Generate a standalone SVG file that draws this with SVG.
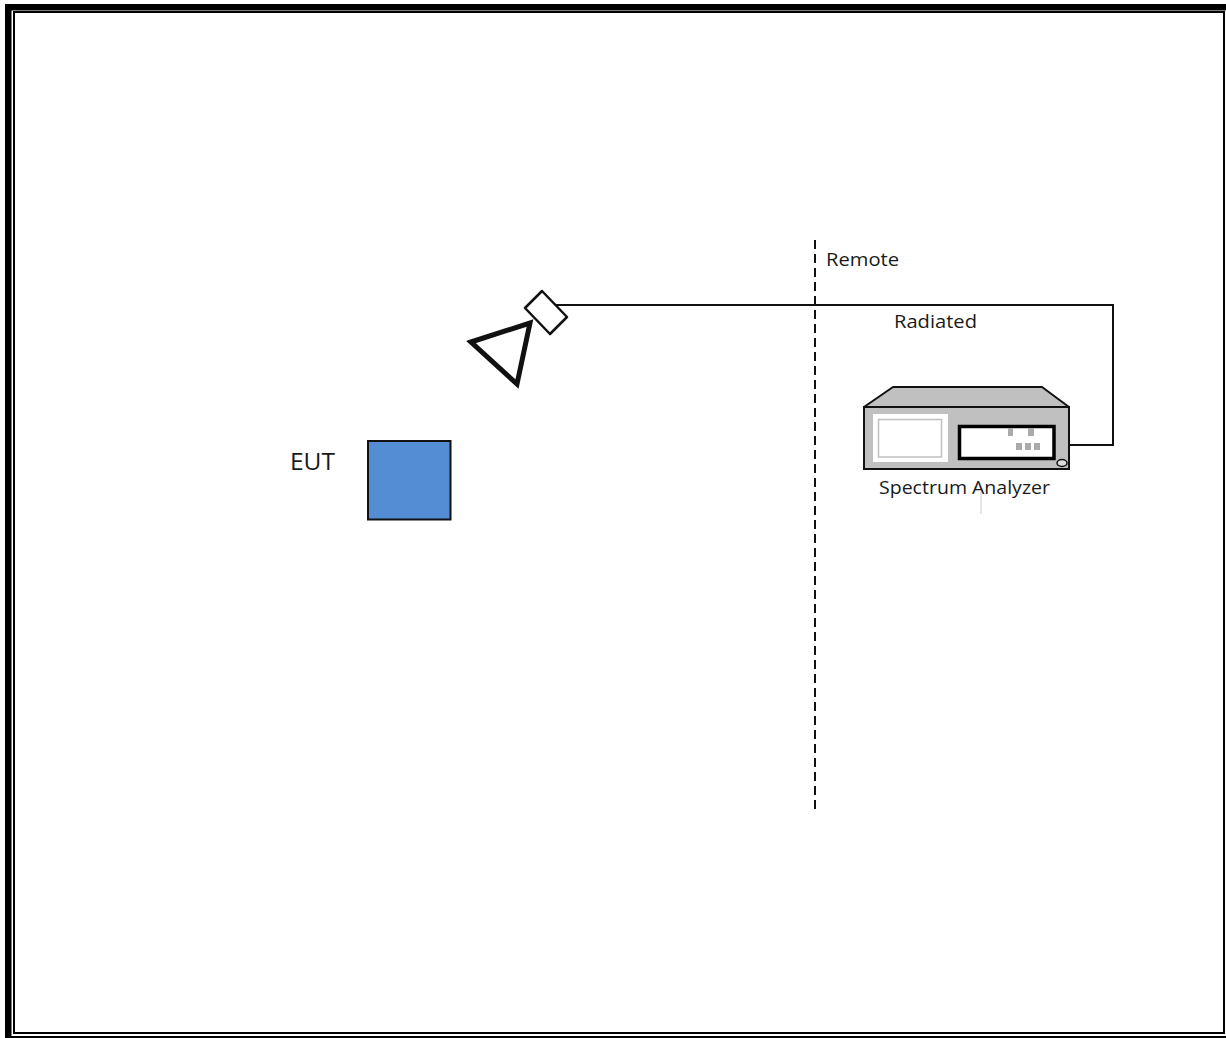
<svg xmlns="http://www.w3.org/2000/svg" width="1226" height="1038" viewBox="0 0 1226 1038">
<style>
.t{font-family:"Open Sans","Noto Sans",sans-serif;fill:#1a1a1a}
.l{fill:none;stroke:#111}
.b{fill:#000}
.k{fill:#aaa}
</style>
<rect width="1226" height="1038" fill="#fff"/>
<g id="page-border">
<path class="b" d="M5 4H1226V10.500H11.500V1036H1226V1038H5Z"/>
<path class="b" fill-rule="evenodd" d="M13 11H1225V1034H13ZM15 13V1032H1223V13Z"/>
</g>
<g id="connectors">
<path class="l" stroke-width="2" d="M556 305H1113V445H1069"/>
<path class="l" stroke-width="2" stroke-dasharray="9 5" d="M815 240V809"/>
<path fill="none" stroke="#ccc" stroke-width="1" d="M981 492V514"/>
</g>
<g id="eut">
<rect x="368" y="441" width="82.500" height="78.500" fill="#548dd4" stroke="#111" stroke-width="2"/>
<text class="t" x="290" y="470" font-size="24.500" textLength="45" lengthAdjust="spacingAndGlyphs">EUT</text>
</g>
<g id="antenna">
<path class="l" stroke-width="5" stroke-linejoin="miter" d="M471 342L530 323L517 384Z"/>
<path fill="#fff" stroke="#111" stroke-width="2.500" stroke-linejoin="round" d="M542 291L567 317L550 334L525 308Z"/>
</g>
<g id="spectrum-analyzer">
<path fill="#c0c0c0" stroke="#111" stroke-width="2" stroke-linejoin="round" d="M864 407L893 387H1042L1069 407Z"/>
<rect x="864" y="407" width="205" height="62" fill="#c0c0c0" stroke="#111" stroke-width="2"/>
<rect x="873" y="414" width="75" height="48" fill="#fff"/>
<rect x="878.500" y="419.500" width="63" height="37.500" fill="#fff" stroke="#c0c0c0" stroke-width="1.500"/>
<rect x="959.500" y="426.500" width="94.500" height="32" fill="#fff" stroke="#000" stroke-width="3.500"/>
<rect class="k" x="1008" y="428" width="5" height="8"/><rect class="k" x="1028" y="428" width="6" height="8"/>
<rect class="k" x="1016" y="443" width="6" height="7"/><rect class="k" x="1025" y="443" width="6" height="7"/><rect class="k" x="1034" y="443" width="6" height="7"/>
<ellipse cx="1062" cy="463" rx="5" ry="3.500" fill="#ddd" stroke="#111" stroke-width="1.500"/>
<text class="t" x="879" y="494" font-size="18.500" textLength="171" lengthAdjust="spacingAndGlyphs">Spectrum Analyzer</text>
</g>
<g id="labels">
<text class="t" x="826" y="266" font-size="18.500" textLength="73" lengthAdjust="spacingAndGlyphs">Remote</text>
<text class="t" x="894" y="328" font-size="18.500" textLength="83" lengthAdjust="spacingAndGlyphs">Radiated</text>
</g>
</svg>
